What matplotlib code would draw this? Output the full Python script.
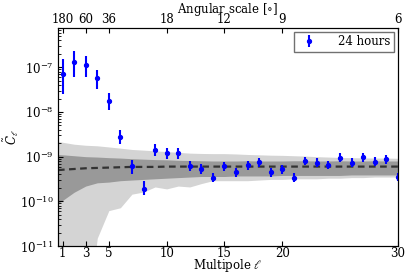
import numpy as np
import matplotlib
matplotlib.use('Agg')
import matplotlib.pyplot as plt

plt.rcParams['font.family'] = 'DejaVu Serif'
plt.rcParams['mathtext.fontset'] = 'dejavuserif'
plt.rcParams['font.size'] = 8.5

# Измеренные точки (24 часа)
ell = np.arange(1, 31)
cl = np.array([7.0e-8, 1.31e-7, 1.11e-7, 5.7e-8, 1.76e-8, 2.75e-9, 6.1e-10, 1.92e-10,
               1.44e-9, 1.21e-9, 1.19e-9, 6.1e-10, 5.3e-10, 3.4e-10, 6.1e-10, 4.5e-10,
               6.45e-10, 7.6e-10, 4.5e-10, 5.2e-10, 3.4e-10, 8.1e-10, 7.4e-10, 6.5e-10,
               9.5e-10, 7.4e-10, 9.7e-10, 7.7e-10, 8.7e-10, 3.5e-10])
cl_hi = np.array([1.5e-7, 2.3e-7, 1.8e-7, 8.7e-8, 2.66e-8, 4.0e-9, 8.5e-10, 2.8e-10,
                  1.92e-9, 1.6e-9, 1.55e-9, 7.8e-10, 6.8e-10, 4.3e-10, 7.7e-10, 5.7e-10,
                  8.1e-10, 9.5e-10, 5.7e-10, 6.5e-10, 4.3e-10, 1.0e-9, 9.2e-10, 8.1e-10,
                  1.18e-9, 9.2e-10, 1.2e-9, 9.6e-10, 1.08e-9, 4.4e-10])
cl_lo = np.array([2.5e-8, 6.2e-8, 6.2e-8, 3.3e-8, 1.1e-8, 1.9e-9, 4.1e-10, 1.37e-10,
                  1.04e-9, 9.0e-10, 9.0e-10, 4.8e-10, 4.2e-10, 2.7e-10, 4.8e-10, 3.6e-10,
                  5.1e-10, 6.0e-10, 3.6e-10, 4.1e-10, 2.7e-10, 6.4e-10, 5.9e-10, 5.2e-10,
                  7.6e-10, 5.9e-10, 7.7e-10, 6.1e-10, 6.9e-10, 2.8e-10])

# Ожидаемое среднее и доверительные области
band_ell = np.array([0.6, 1, 2, 3, 4, 5, 6, 7, 8, 9, 10, 11, 12, 13, 14, 15, 16, 17, 18,
                     19, 20, 21, 22, 23, 24, 25, 26, 27, 28, 29, 30])
mean = np.array([5.0e-10, 5.1e-10, 5.3e-10, 5.5e-10, 5.6e-10, 5.7e-10, 5.8e-10, 5.9e-10,
                 5.9e-10, 5.9e-10, 6.0e-10, 6.0e-10, 6.0e-10, 6.0e-10, 6.0e-10, 6.0e-10,
                 6.0e-10, 6.0e-10, 6.0e-10, 6.0e-10, 6.0e-10, 6.0e-10, 6.0e-10, 6.0e-10,
                 6.0e-10, 6.0e-10, 6.0e-10, 6.0e-10, 6.0e-10, 6.0e-10, 6.0e-10])
s1_hi = np.array([1.12e-9, 1.1e-9, 1.05e-9, 1.0e-9, 9.8e-10, 9.5e-10, 9.3e-10, 9.0e-10,
                  8.8e-10, 8.6e-10, 8.5e-10, 8.3e-10, 8.2e-10, 8.1e-10, 8.0e-10, 8.0e-10,
                  8.0e-10, 8.1e-10, 8.0e-10, 8.0e-10, 8.0e-10, 8.1e-10, 8.1e-10, 8.0e-10,
                  8.0e-10, 8.1e-10, 8.0e-10, 8.0e-10, 8.1e-10, 8.0e-10, 8.0e-10])
s1_lo = np.array([8.9e-11, 1.05e-10, 1.6e-10, 2.2e-10, 2.6e-10, 2.7e-10, 2.9e-10, 3.0e-10,
                  3.1e-10, 3.2e-10, 3.3e-10, 3.4e-10, 3.5e-10, 3.6e-10, 3.6e-10, 3.6e-10,
                  3.7e-10, 3.7e-10, 3.7e-10, 3.7e-10, 3.8e-10, 3.8e-10, 3.8e-10, 3.8e-10,
                  3.8e-10, 3.8e-10, 3.9e-10, 3.9e-10, 3.9e-10, 3.9e-10, 3.9e-10])
s2_hi = np.array([2.2e-9, 2.1e-9, 1.9e-9, 1.8e-9, 1.75e-9, 1.65e-9, 1.55e-9, 1.45e-9,
                  1.4e-9, 1.35e-9, 1.3e-9, 1.25e-9, 1.2e-9, 1.18e-9, 1.17e-9, 1.17e-9,
                  1.15e-9, 1.12e-9, 1.1e-9, 1.08e-9, 1.07e-9, 1.05e-9, 1.03e-9, 1.0e-9,
                  9.8e-10, 9.6e-10, 9.5e-10, 9.4e-10, 9.3e-10, 9.3e-10, 9.2e-10])
s2_lo = np.array([1e-13, 1e-13, 1e-13, 1e-13, 1.5e-11, 6.2e-11, 7.2e-11, 1.45e-10,
                  1.62e-10, 2.1e-10, 1.9e-10, 2.2e-10, 2.1e-10, 2.5e-10, 2.9e-10, 2.9e-10,
                  2.9e-10, 2.9e-10, 3.0e-10, 3.1e-10, 3.1e-10, 3.2e-10, 3.2e-10, 3.2e-10,
                  3.3e-10, 3.3e-10, 3.4e-10, 3.4e-10, 3.5e-10, 3.5e-10, 3.5e-10])

top_ticks = [1, 3, 5, 10, 15, 20, 30]
top_labels = ['180', '60', '36', '18', '12', '9', '6']

fig = plt.figure(figsize=(4.11, 2.74), dpi=100)
ax = fig.add_axes([0.141, 0.102, 0.827, 0.797])

ax.fill_between(band_ell, s2_lo, s2_hi, color='0.83', lw=0)
ax.fill_between(band_ell, s1_lo, s1_hi, color='0.6', lw=0)
ax.plot(band_ell, mean, '--', color='0.2', lw=1.6, dashes=(3, 2))

ax.errorbar(ell, cl, yerr=[cl - cl_lo, cl_hi - cl], fmt='o', color='blue',
            ms=2.8, elinewidth=1.5, capsize=0, label='24 hours')

ax.set_yscale('log')
ax.set_xlim(0.6, 30)
ax.set_ylim(1e-11, 7.7e-7)
ax.set_xticks(top_ticks)
ax.set_xlabel(r'Multipole $\ell$')
ax.set_ylabel(r'$\tilde{C}_\ell$')
ax.xaxis.set_label_coords(0.5, -0.052)
ax.yaxis.set_label_coords(-0.11, 0.5)
ax.tick_params(which='both', direction='in', right=False, pad=1)
ax.tick_params(axis='y', pad=3)

ax2 = ax.twiny()
ax2.set_xlim(ax.get_xlim())
ax2.set_xticks(top_ticks)
ax2.set_xticklabels(top_labels)
ax2.tick_params(direction='in', pad=1)
ax2.set_xlabel(r'Angular scale [$\circ$]')
ax2.xaxis.set_label_coords(0.5, 1.065)

leg = ax.legend(loc='upper right', numpoints=1, fancybox=False, fontsize=8.5,
                handletextpad=1.4, borderpad=0.3, borderaxespad=0.35)
leg.get_frame().set_edgecolor('0.3')

fig.savefig('out.png', dpi=100)
